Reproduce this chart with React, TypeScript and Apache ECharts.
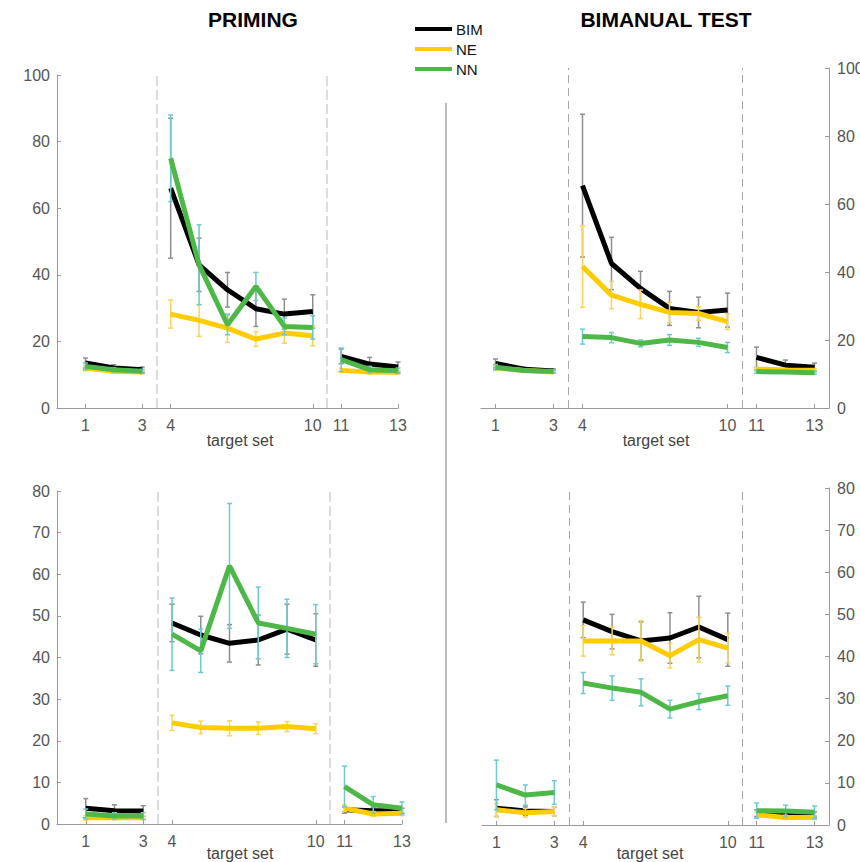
import React, { useEffect, useRef } from "react";
import * as echarts from "echarts";

// x positions of the 12 plotted bins, and tick positions/labels
const POS = [1, 2, 3, 4, 5, 6, 7, 8, 9, 10, 11, 12];
const BREAK_AFTER = [2, 8];
const SEGMENT_LINES = [3.5, 9.5];
const TICK_POS = [1, 3, 4, 9, 10, 12];
const TICK_LABELS = ["1", "3", "4", "10", "11", "13"];
const GROUPS = ["BIM", "NE", "NN"];

// Panel A: PRIMING (top)
const BIM_A = [13.5, 12, 11.5, 66, 43, 35.5, 29.8, 28.2, 29, 15.5, 13.2, 12.3];
const BIM_A_ERR = [1.5, 1, 0.8, 21, 8, 5.2, 5.3, 4.5, 5, 2.2, 2, 1.5];
const NE_A = [12, 11, 10.8, 28.2, 26.3, 24, 20.7, 22.5, 21.7, 11.3, 10.8, 10.7];
const NE_A_ERR = [0.8, 0.5, 0.5, 4.2, 4.8, 4.3, 2.2, 3, 3, 0.6, 0.5, 0.5];
const NN_A = [12.5, 11.5, 11, 75, 43, 25, 36.5, 24.5, 24.2, 14.5, 11.5, 11.2];
const NN_A_ERR = [1, 0.6, 0.6, 13, 12, 3, 4.2, 2.5, 3.5, 3.5, 1, 0.8];

// Panel B: BIMANUAL TEST (top)
const BIM_B = [13.1, 11.4, 10.9, 65.4, 42.5, 35.2, 29.3, 28.1, 28.8, 14.9, 12.6, 12];
const BIM_B_ERR = [1.3, 0.6, 0.6, 21, 7.7, 5, 5, 4.5, 5, 3, 1.5, 1.2];
const NE_B = [11.8, 11, 10.6, 41.6, 33.2, 30.5, 28.1, 27.8, 25.4, 11.4, 11.2, 11.1];
const NE_B_ERR = [0.6, 0.4, 0.4, 12, 4, 4.2, 3, 2, 2.3, 0.5, 0.4, 0.4];
const NN_B = [12, 11, 10.7, 21, 20.7, 19, 20, 19.3, 17.8, 10.7, 10.6, 10.4];
const NN_B_ERR = [0.8, 0.4, 0.4, 2.2, 1.5, 1, 1.6, 1.2, 1.5, 0.5, 0.4, 0.4];

// Panel C: PRIMING (bottom)
const BIM_C = [3.8, 3.2, 3.1, 48.3, 45.4, 43.4, 44.2, 46.8, 44.2, 3.4, 3.2, 3.2];
const BIM_C_ERR = [2.3, 1.4, 1.3, 4.5, 4.5, 4.5, 6, 6, 6.3, 0.8, 0.8, 0.6];
const NE_C = [1.5, 1.5, 1.5, 24.3, 23.2, 23, 23, 23.4, 22.9, 3.8, 2.4, 2.6];
const NE_C_ERR = [0.5, 0.4, 0.4, 1.8, 1.5, 1.8, 1.5, 1.2, 1.2, 0.8, 0.6, 0.6];
const NN_C = [2.4, 1.9, 1.9, 45.6, 41.6, 62, 48.3, 47, 45.6, 9, 4.6, 3.8];
const NN_C_ERR = [1.2, 0.8, 0.8, 8.7, 5.2, 15, 8.6, 7, 7.1, 4.9, 2, 1.5];

// Panel D: BIMANUAL TEST (bottom)
const BIM_D = [4, 3.3, 3.2, 48.7, 45.9, 43.7, 44.4, 47, 44, 2.8, 2.6, 2.5];
const BIM_D_ERR = [2, 1, 1, 4.2, 4.1, 4.5, 6, 7.3, 6.3, 0.8, 1, 0.6];
const NE_D = [3.6, 2.9, 3.2, 43.7, 43.7, 43.7, 40.2, 44, 42, 2.4, 1.8, 1.8];
const NE_D_ERR = [1.5, 1, 1, 3.6, 3.3, 4.8, 2.9, 5.3, 3.5, 0.7, 0.5, 0.5];
const NN_D = [9.5, 7.1, 7.7, 33.7, 32.5, 31.5, 27.5, 29.3, 30.7, 3.4, 3.3, 3];
const NN_D_ERR = [5.9, 2.4, 2.8, 2.5, 2.9, 3.2, 2.1, 1.9, 2.3, 1.8, 1.4, 1.5];

const LINE_COLORS = { BIM: "#000000", NE: "#ffcc00", NN: "#4db848" };
const ERR_COLORS = { BIM: "#8e8e8e", NE: "#f9d45c", NN: "#6ccbcc" };
const FONT = "'Liberation Sans', Arial, Helvetica, sans-serif";

const PANELS = [
  { vals: [BIM_A, NE_A, NN_A], errs: [BIM_A_ERR, NE_A_ERR, NN_A_ERR], ymax: 100, yint: 20, side: "left",
    grid: { left: 57, top: 75, width: 341, height: 333 }, xmin: 0, xmax: 12, dash: { color: "#d4d4d4", width: 1.6, type: [10, 4] } },
  { vals: [BIM_B, NE_B, NN_B], errs: [BIM_B_ERR, NE_B_ERR, NN_B_ERR], ymax: 100, yint: 20, side: "right",
    grid: { left: 481, top: 68, width: 348, height: 340 }, xmin: 0.5, xmax: 12.5, dash: { color: "#a8a8a8", width: 1, type: [8, 5] } },
  { vals: [BIM_C, NE_C, NN_C], errs: [BIM_C_ERR, NE_C_ERR, NN_C_ERR], ymax: 80, yint: 10, side: "left",
    grid: { left: 57, top: 491, width: 345, height: 333 }, xmin: 0, xmax: 12, dash: { color: "#d4d4d4", width: 1.6, type: [10, 4] } },
  { vals: [BIM_D, NE_D, NN_D], errs: [BIM_D_ERR, NE_D_ERR, NN_D_ERR], ymax: 80, yint: 10, side: "right",
    grid: { left: 482, top: 488, width: 347, height: 337 }, xmin: 0.5, xmax: 12.5, dash: { color: "#a8a8a8", width: 1, type: [8, 5] } },
];

function lineData(vals: number[]) {
  const out: any[] = [];
  vals.forEach((v, i) => {
    out.push([POS[i], v]);
    if (BREAK_AFTER.includes(i)) out.push([POS[i] + 0.5, "-"]);
  });
  return out;
}

function errData(vals: number[], errs: number[]) {
  return vals.map((v, i) => [POS[i], v - errs[i], v + errs[i]]);
}

function makeErrRender(color: string) {
  return (params: any, api: any) => {
    const x = api.value(0);
    const lo = api.coord([x, api.value(1)]);
    const hi = api.coord([x, api.value(2)]);
    const w = 2.5;
    const style = { stroke: color, lineWidth: 1.5 };
    return {
      type: "group",
      children: [
        { type: "line", shape: { x1: lo[0], y1: lo[1], x2: hi[0], y2: hi[1] }, style },
        { type: "line", shape: { x1: lo[0] - w, y1: lo[1], x2: lo[0] + w, y2: lo[1] }, style },
        { type: "line", shape: { x1: hi[0] - w, y1: hi[1], x2: hi[0] + w, y2: hi[1] }, style },
      ],
    };
  };
}

export default function App() {
  const ref = useRef<HTMLDivElement>(null);
  useEffect(() => {
    if (!ref.current) return;
    const chart = echarts.init(ref.current, null, { renderer: "svg" });
    const grids: any[] = [];
    const xAxes: any[] = [];
    const yAxes: any[] = [];
    const series: any[] = [];
    PANELS.forEach((p, pi) => {
      grids.push({ ...p.grid, containLabel: false, outerBoundsMode: "none" });
      xAxes.push({
        type: "value", gridIndex: pi, min: p.xmin, max: p.xmax,
        axisLine: { show: true, lineStyle: { color: "#9a9a9a", width: 1 } },
        axisTick: { show: true, inside: true, length: 4, customValues: TICK_POS, lineStyle: { color: "#9a9a9a" } },
        axisLabel: {
          customValues: TICK_POS, margin: 9, fontSize: 16, color: "#555", fontFamily: FONT,
          formatter: (v: number) => TICK_LABELS[TICK_POS.indexOf(v)] ?? "",
        },
        splitLine: { show: false },
      });
      yAxes.push({
        type: "value", gridIndex: pi, min: 0, max: p.ymax, interval: p.yint, position: p.side,
        axisLine: { show: true, lineStyle: { color: "#9a9a9a", width: 1 } },
        axisTick: { show: true, inside: true, length: 4, lineStyle: { color: "#9a9a9a" } },
        axisLabel: { margin: p.side === "left" ? 7 : 8, fontSize: 16, color: "#555", fontFamily: FONT },
        splitLine: { show: false },
      });
      GROUPS.forEach((g, gi) => {
        series.push({
          type: "custom", name: g + " error", xAxisIndex: pi, yAxisIndex: pi,
          renderItem: makeErrRender((ERR_COLORS as any)[g]),
          encode: { x: 0, y: [1, 2] },
          data: errData(p.vals[gi], p.errs[gi]), silent: true, z: 2 + gi * 2,
        });
        const s: any = {
          type: "line", name: g, xAxisIndex: pi, yAxisIndex: pi,
          data: lineData(p.vals[gi]), symbol: "none", connectNulls: false,
          lineStyle: { color: (LINE_COLORS as any)[g], width: 5 },
          itemStyle: { color: (LINE_COLORS as any)[g] },
          z: 3 + gi * 2, silent: true,
        };
        if (gi === 0) {
          s.markLine = {
            silent: true, symbol: "none", label: { show: false },
            lineStyle: { color: p.dash.color, width: p.dash.width, type: p.dash.type },
            data: SEGMENT_LINES.map((x) => ({ xAxis: x })),
            z: 1,
          };
        }
        series.push(s);
      });
    });

    const text = (t: string, x: number, y: number, size: number, weight: string, color: string) => ({
      type: "text", x, y, silent: true,
      style: { text: t, fontSize: size, fontWeight: weight, fontFamily: FONT, fill: color, align: "center", verticalAlign: "middle" },
    });

    chart.setOption({
      animation: false,
      backgroundColor: "#ffffff",
      grid: grids,
      xAxis: xAxes,
      yAxis: yAxes,
      series,
      legend: {
        data: GROUPS, orient: "vertical", left: 415, top: 19, padding: 0, itemGap: 0,
        icon: "rect", itemWidth: 37, itemHeight: 4,
        textStyle: { fontSize: 15, color: "#111", fontFamily: FONT, lineHeight: 20, padding: [0, 0, 0, -1] },
        selectedMode: false,
      },
      graphic: [
        text("PRIMING", 253, 19, 21, "bold", "#000"),
        text("BIMANUAL TEST", 666, 19, 21, "bold", "#000"),
        text("target set", 240, 440, 16, "normal", "#444"),
        text("target set", 656, 440, 16, "normal", "#444"),
        text("target set", 240, 853, 16, "normal", "#444"),
        text("target set", 650, 853, 16, "normal", "#444"),
        { type: "line", silent: true, shape: { x1: 446, y1: 103, x2: 446, y2: 823 }, style: { stroke: "#777", lineWidth: 1 } },
      ],
    });
    return () => chart.dispose();
  }, []);
  return <div ref={ref} style={{ position: "fixed", left: 0, top: 0, width: 860, height: 862 }} />;
}
